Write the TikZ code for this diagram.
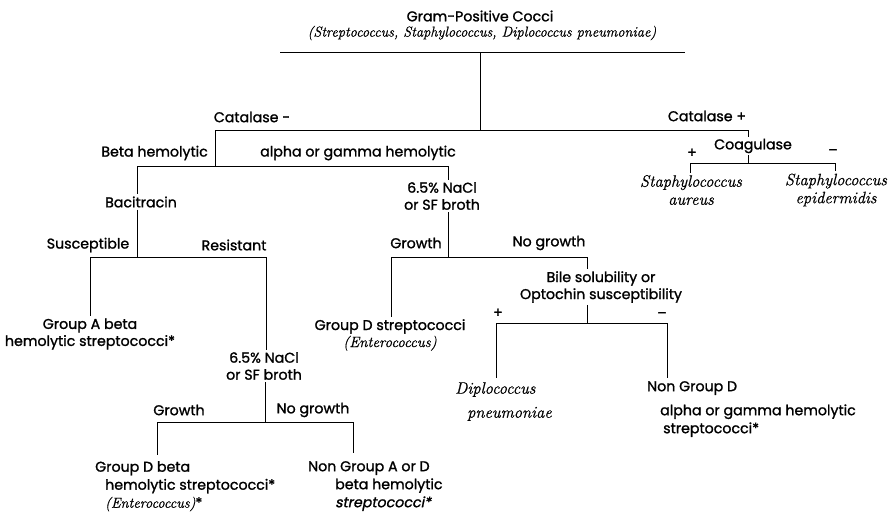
\documentclass[tikz,border=0pt]{standalone}
\usepackage{fontspec}
\newfontfamily\labelfont{Poppins}[FakeBold=1.3]
\newfontfamily\labelslant{Poppins}[FakeBold=1.3,FakeSlant=0.2]
\newfontfamily\taxonfont{Latin Modern Roman}[FakeBold=0.7]
\begin{document}
\begin{tikzpicture}
        [x=1pt, y=-1pt,
         test_style/.style={font=\labelfont\fontsize{14.2}{17}\selectfont, align=center, inner sep=2pt},
         result_style/.style={font=\labelfont\fontsize{14.2}{18}\selectfont, align=left, inner sep=0pt, anchor=north west},
         genus_style/.style={font=\taxonfont\fontsize{14.4}{17}\selectfont\itshape, inner sep=0pt},
         taxon_style/.style={font=\taxonfont\fontsize{16.5}{18}\selectfont\itshape, align=center, inner sep=2pt},
         sign_style/.style={font=\labelfont\fontsize{14}{15}\selectfont, inner sep=0pt},
         edge_style/.style={draw=black, line width=1pt}]
            \useasboundingbox (0,0) rectangle (890,517);
            \node[test_style, inner sep=0pt] (gpc) at (480,16) {Gram-Positive Cocci};
            \node[genus_style] (genera) at (482,33) {(Streptococcus, Staphylococcus, Diplococcus pneumoniae)};
            \coordinate (topL) at (280,52);
            \coordinate (topR) at (685,52);
            \coordinate (topM) at (480,52);
            \coordinate (catM) at (480,130);
            \coordinate (catN) at (215,130);
            \coordinate (catP) at (748,130);
            \node[test_style] (catneg) at (252,117) {Catalase -};
            \node[test_style] (catpos) at (707,116) {Catalase +};
            \node[test_style] (coag) at (753,146) {Coagulase};
            \coordinate (coagM) at (748,163);
            \coordinate (coagL) at (690,163);
            \coordinate (coagR) at (835,163);
            \node[sign_style] (coagplus) at (692,153) {+};
            \node[sign_style] (coagminus) at (833,152) {–};
            \node[taxon_style] (aureus) at (691,190) {Staphylococcus\\aureus};
            \node[taxon_style] (epid) at (836,190) {Staphylococcus\\epidermidis};
            \coordinate (hemM) at (215,166);
            \coordinate (hemL) at (137,166);
            \coordinate (hemR) at (448,166);
            \node[test_style, anchor=east] (beta) at (210,153) {Beta hemolytic};
            \node[test_style] (alpha) at (358,153) {alpha or gamma hemolytic};
            \node[test_style] (bac) at (141,202) {Bacitracin};
            \coordinate (bacM) at (137,257);
            \coordinate (bacL) at (90,257);
            \coordinate (bacR) at (266,257);
            \node[test_style] (susc) at (88,245) {Susceptible};
            \node[test_style] (resi) at (234,245) {Resistant};
            \node[test_style] (grpA) at (90,334) {Group A beta\\hemolytic streptococci*};
            \node[test_style] (naclB) at (264,366) {6.5\% NaCl\\or SF broth};
            \coordinate (naclBM) at (265,422);
            \coordinate (naclBL) at (157,422);
            \coordinate (naclBR) at (353,422);
            \node[test_style] (growthB) at (179,410) {Growth};
            \node[test_style] (nogrowthB) at (313,410) {No growth};
            \node[result_style] (grpDbeta) at (95,461) {Group D beta\\\hspace*{10pt}hemolytic streptococci*\\\hspace*{10pt}{\taxonfont\fontsize{14.5}{17}\selectfont\itshape(Enterococcus)}*};
            \node[result_style] (nonAD) at (308,461) {Non Group A or D\\\hspace*{27pt}beta hemolytic\\\hspace*{27pt}{\labelslant streptococci*}};
            \node[test_style] (naclA) at (442,196) {6.5\% NaCl\\or SF broth};
            \coordinate (naclAM) at (448,257);
            \coordinate (naclAL) at (391,257);
            \coordinate (naclAR) at (587,257);
            \node[test_style] (growthA) at (416,243) {Growth};
            \node[test_style] (nogrowthA) at (549,243) {No growth};
            \node[test_style] (grpD) at (390,335) {Group D streptococci\\{\taxonfont\fontsize{15}{17}\selectfont\itshape(Enterococcus)}};
            \node[test_style] (bile) at (601,287) {Bile solubility or\\Optochin susceptibility};
            \coordinate (bileM) at (587,323);
            \coordinate (bileL) at (496,323);
            \coordinate (bileR) at (667,323);
            \node[sign_style] (bileplus) at (498,313) {+};
            \node[sign_style] (bileminus) at (662,315) {–};
            \node[taxon_style, align=left, anchor=north west] (dipl) at (453,380) {Diplococcus\\[6pt]\hspace*{12pt}pneumoniae};
            \node[result_style] (nonGD) at (647,381) {Non Group D\\[6pt]\hspace*{13pt}alpha or gamma hemolytic\\\hspace*{16pt}streptococci*};
            \draw[edge_style] (topL) -- (topR);
            \draw[edge_style] (topM) -- (catM);
            \draw[edge_style] (catN) -- (catP);
            \draw[edge_style] (catP) -- (catP |- coag.north);
            \draw[edge_style] (coag.south -| coagM) -- (coagM);
            \draw[edge_style] (coagL) -- (coagR);
            \draw[edge_style] (coagL) -- (coagL |- aureus.north);
            \draw[edge_style] (coagR) -- (coagR |- epid.north);
            \draw[edge_style] (catN) -- (hemM);
            \draw[edge_style] (hemL) -- (hemR);
            \draw[edge_style] (hemL) -- (hemL |- bac.north);
            \draw[edge_style] (bac.south -| bacM) -- (bacM);
            \draw[edge_style] (bacL) -- (bacR);
            \draw[edge_style] (bacL) -- (bacL |- grpA.north);
            \draw[edge_style] (bacR) -- (bacR |- naclB.north);
            \draw[edge_style] (naclB.south -| naclBM) -- (naclBM);
            \draw[edge_style] (naclBL) -- (naclBR);
            \draw[edge_style] (naclBL) -- ++(0,33);
            \draw[edge_style] (naclBR) -- ++(0,31);
            \draw[edge_style] (hemR) -- (hemR |- naclA.north);
            \draw[edge_style] (naclA.south -| naclAM) -- (naclAM);
            \draw[edge_style] (naclAL) -- (naclAR);
            \draw[edge_style] (naclAL) -- (naclAL |- grpD.north);
            \draw[edge_style] (naclAR) -- (naclAR |- bile.north);
            \draw[edge_style] (bile.south -| bileM) -- (bileM);
            \draw[edge_style] (bileL) -- (bileR);
            \draw[edge_style] (bileL) -- ++(0,55);
            \draw[edge_style] (bileR) -- ++(0,55);
        \end{tikzpicture}
\end{document}
